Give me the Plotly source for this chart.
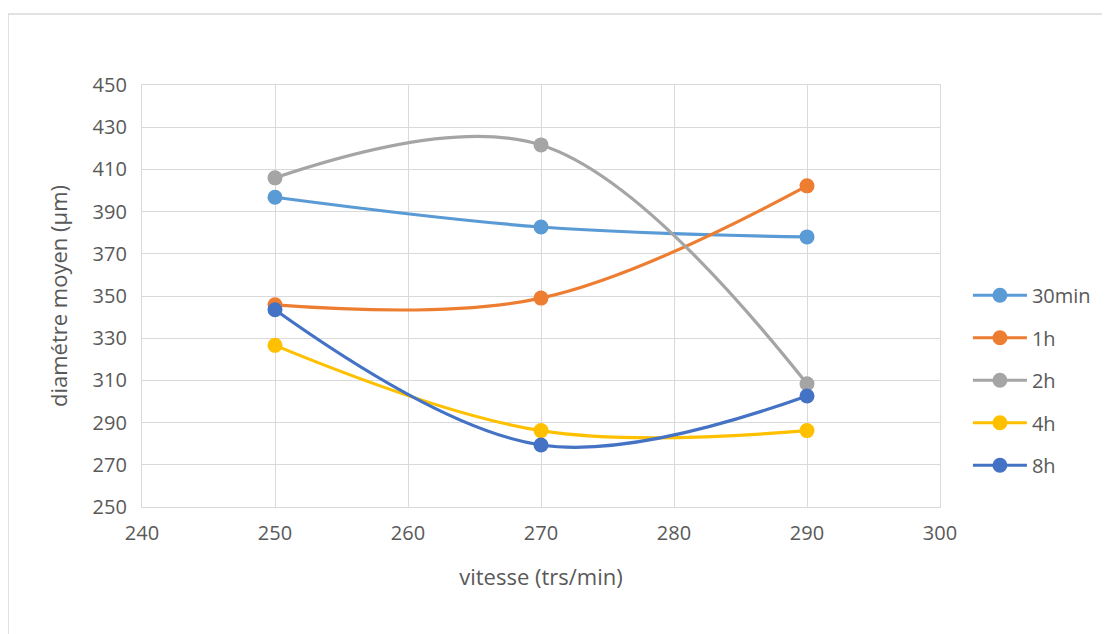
import plotly.graph_objects as go

vitesse = [250, 270, 290]
series_names = ["30min", "1h", "2h", "4h", "8h"]
d_30min = [396.8, 382.7, 378.0]
d_1h = [345.8, 349.0, 402.2]
d_2h = [406.0, 421.6, 308.4]
d_4h = [326.6, 286.2, 286.2]
d_8h = [343.5, 279.4, 302.6]
colors = ["#5B9BD5", "#ED7D31", "#A5A5A5", "#FFC000", "#4472C4"]

series_values = [d_30min, d_1h, d_2h, d_4h, d_8h]

x_ticks = [240, 250, 260, 270, 280, 290, 300]
y_ticks = list(range(250, 451, 20))

FONT = "Open Sans"
TXT = "#595959"

fig = go.Figure()
for name, vals, col in zip(series_names, series_values, colors):
    fig.add_trace(go.Scatter(
        x=vitesse, y=vals, name=name, mode="lines+markers",
        line=dict(color=col, width=3.2, shape="spline", smoothing=1.05),
        marker=dict(color=col, size=15),
        legendgroup=name,
    ))

fig.update_layout(
    width=1110, height=634,
    margin=dict(l=134, r=178, t=77, b=135),
    paper_bgcolor="white", plot_bgcolor="white",
    font=dict(family=FONT, size=20, color=TXT),
    showlegend=True,
    legend=dict(
        x=1.035, xanchor="left", y=0.548, yanchor="top",
        font=dict(family=FONT, size=20, color=TXT),
        itemwidth=54, tracegroupgap=13.5,
        bgcolor="rgba(0,0,0,0)",
    ),
    xaxis=dict(
        range=[240, 300], tickvals=x_ticks, ticktext=[str(v) for v in x_ticks],
        showgrid=True, gridcolor="#D9D9D9", gridwidth=1.3,
        showline=True, linecolor="#D9D9D9", linewidth=1.3, mirror=True,
        zeroline=False, ticks="", ticklabelstandoff=8,
        title=dict(text="vitesse (trs/min)", font=dict(family=FONT, size=22, color=TXT), standoff=24),
        tickfont=dict(family=FONT, size=20, color=TXT),
    ),
    yaxis=dict(
        range=[250, 450], tickvals=y_ticks, ticktext=[str(v) for v in y_ticks],
        showgrid=True, gridcolor="#D9D9D9", gridwidth=1.3,
        showline=True, linecolor="#D9D9D9", linewidth=1.3, mirror=True,
        zeroline=False, ticks="", ticklabelstandoff=10,
        title=dict(text="diamétre moyen (µm)", font=dict(family=FONT, size=22, color=TXT), standoff=18),
        tickfont=dict(family=FONT, size=20, color=TXT),
    ),
    shapes=[dict(
        type="rect", xref="paper", yref="paper",
        x0=-134/798, x1=(1130-142)/798, y0=-(660-507)/422, y1=(507-14)/422,
        line=dict(color="#D9D9D9", width=1.5), fillcolor="rgba(0,0,0,0)", layer="below",
    )],
)

fig.write_html("out.html")
